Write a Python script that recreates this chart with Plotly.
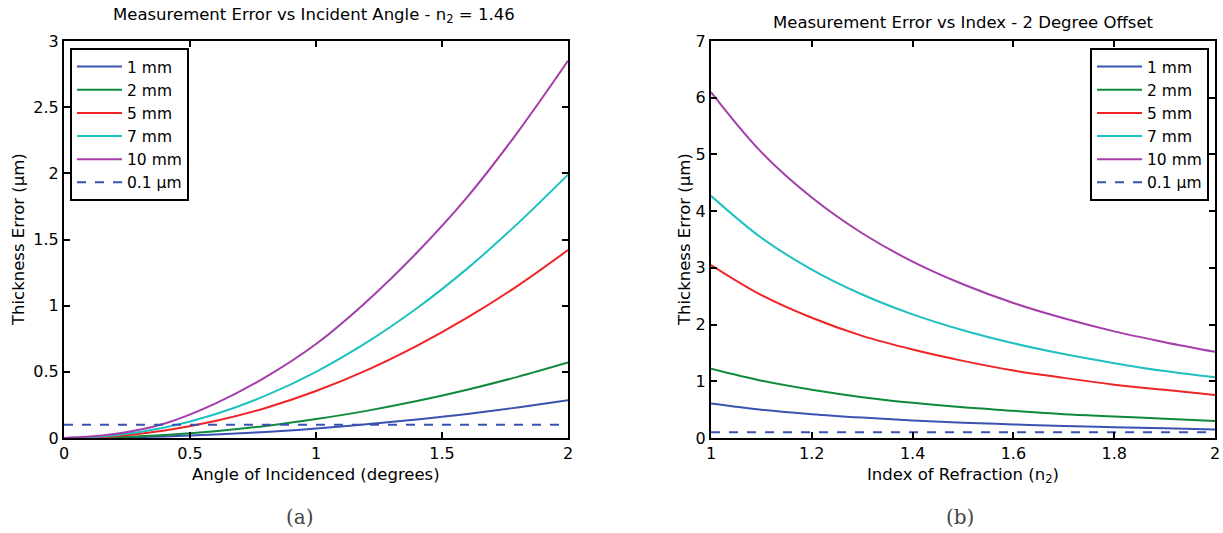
import plotly.graph_objects as go

# ---- data: (a) thickness error vs angle of incidence, n2 = 1.46 ----
angle_deg = [0.0, 0.2, 0.4, 0.6, 0.8, 1.0, 1.2, 1.4, 1.6, 1.8, 2.0]
err_a_1mm = [0, 0.003, 0.011, 0.026, 0.046, 0.071, 0.103, 0.140, 0.182, 0.231, 0.285]
err_a_2mm = [0, 0.006, 0.023, 0.051, 0.091, 0.143, 0.205, 0.279, 0.365, 0.462, 0.570]
err_a_5mm = [0, 0.014, 0.057, 0.128, 0.227, 0.355, 0.511, 0.696, 0.909, 1.150, 1.420]
err_a_7mm = [0, 0.020, 0.080, 0.180, 0.320, 0.500, 0.720, 0.980, 1.280, 1.620, 1.990]
err_a_10mm = [0, 0.030, 0.110, 0.260, 0.460, 0.710, 1.030, 1.400, 1.820, 2.310, 2.850]

# ---- data: (b) thickness error vs index of refraction, 2 degree offset ----
index_n2 = [1.0, 1.1, 1.2, 1.3, 1.4, 1.5, 1.6, 1.7, 1.8, 1.9, 2.0]
err_b_1mm = [0.61, 0.50, 0.42, 0.36, 0.31, 0.27, 0.24, 0.21, 0.19, 0.17, 0.15]
err_b_2mm = [1.22, 1.01, 0.85, 0.72, 0.62, 0.54, 0.48, 0.42, 0.38, 0.34, 0.30]
err_b_5mm = [3.05, 2.52, 2.12, 1.80, 1.56, 1.36, 1.19, 1.06, 0.94, 0.85, 0.76]
err_b_7mm = [4.27, 3.53, 2.97, 2.53, 2.18, 1.90, 1.67, 1.48, 1.32, 1.18, 1.07]
err_b_10mm = [6.10, 5.04, 4.24, 3.61, 3.11, 2.71, 2.38, 2.11, 1.88, 1.69, 1.52]

threshold_um = 0.1
series_names = ["1 mm", "2 mm", "5 mm", "7 mm", "10 mm"]
series_colors = ["#3a52b0", "#0f8a3c", "#f02424", "#1ec0c0", "#a43eaa"]

FONT = "DejaVu Sans, Verdana, sans-serif"
W, H = 1223, 533


def px(x):
    return x / W


def py(y):
    return 1 - y / H


fig = go.Figure()

panels = [
    (angle_deg, [err_a_1mm, err_a_2mm, err_a_5mm, err_a_7mm, err_a_10mm], "x", "y", "legend"),
    (index_n2, [err_b_1mm, err_b_2mm, err_b_5mm, err_b_7mm, err_b_10mm], "x2", "y2", "legend2"),
]
for xs, ys_list, xa, ya, lg in panels:
    for name, color, ys in zip(series_names, series_colors, ys_list):
        fig.add_trace(go.Scatter(
            x=xs, y=ys, mode="lines", name=name, xaxis=xa, yaxis=ya, legend=lg,
            line=dict(color=color, width=2, shape="spline"),
        ))
    fig.add_trace(go.Scatter(
        x=[xs[0], xs[-1]], y=[threshold_um, threshold_um], mode="lines",
        name="0.1 \u03bcm", xaxis=xa, yaxis=ya, legend=lg,
        line=dict(color=series_colors[0], width=2, dash="dash"),
    ))

axis_common = dict(
    showline=True, linecolor="black", linewidth=2, mirror="allticks",
    ticks="inside", ticklen=6, tickcolor="black", tickwidth=2,
    showgrid=False, zeroline=False, automargin=False,
    tickfont=dict(family=FONT, size=16, color="black"),
)
y_dom = [py(438), py(41)]
legend_common = dict(
    yanchor="top", bgcolor="white", bordercolor="black", borderwidth=2,
    font=dict(family=FONT, size=15.5, color="black"), tracegroupgap=0, itemwidth=45,
)

fig.update_layout(
    width=W, height=H,
    margin=dict(l=0, r=0, t=0, b=0, autoexpand=False),
    paper_bgcolor="white", plot_bgcolor="white",
    font=dict(family=FONT, color="black"),
    xaxis=dict(axis_common, domain=[px(64), px(568)], range=[0, 2], dtick=0.5),
    yaxis=dict(axis_common, domain=y_dom, range=[0, 3], dtick=0.5),
    xaxis2=dict(axis_common, domain=[px(711), px(1215)], range=[1, 2], dtick=0.2, anchor="y2"),
    yaxis2=dict(axis_common, domain=y_dom, range=[0, 7], dtick=1, anchor="x2"),
    legend=dict(legend_common, x=px(70), y=py(48), xanchor="left"),
    legend2=dict(legend_common, x=px(1209), y=py(48), xanchor="right"),
    showlegend=True,
)

# panel titles, axis titles and captions
texts = [
    ("Measurement Error vs Incident Angle - n<sub>2</sub> = 1.46", 314, 16, 0),
    ("Measurement Error vs Index - 2 Degree Offset", 963, 23, 0),
    ("Angle of Incidenced (degrees)", 316, 474, 0),
    ("Index of Refraction (n<sub>2</sub>)", 963, 475, 0),
    ("Thickness Error (\u03bcm)", 18, 240, -90),
    ("Thickness Error (\u03bcm)", 684, 240, -90),
]
for txt, x, y, ang in texts:
    fig.add_annotation(xref="paper", yref="paper", showarrow=False, text=txt,
                       x=px(x), y=py(y), xanchor="center", yanchor="middle", textangle=ang,
                       font=dict(family=FONT, size=16.5, color="black"))

for cap, cx in [("(a)", 300), ("(b)", 960)]:
    fig.add_annotation(xref="paper", yref="paper", showarrow=False, text=cap,
                       x=px(cx), y=py(517), xanchor="center", yanchor="middle",
                       font=dict(family="DejaVu Serif, Liberation Serif, serif", size=20, color="#444"))

fig.write_html("out.html")
